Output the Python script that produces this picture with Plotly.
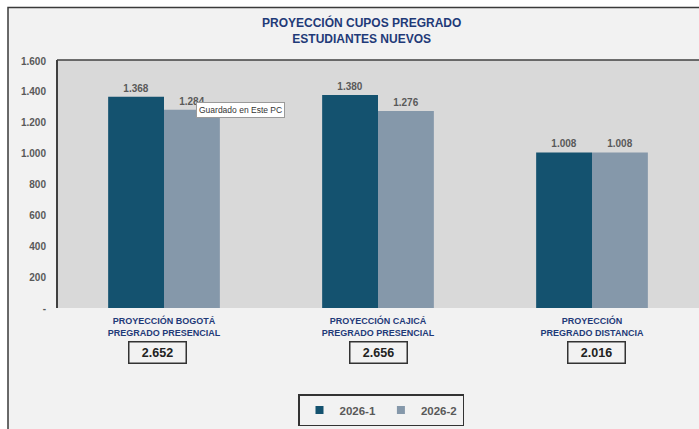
import plotly.graph_objects as go

# Chart data
categories = ["PROYECCIÓN BOGOTÁ<br>PREGRADO PRESENCIAL",
              "PROYECCIÓN CAJICÁ<br>PREGRADO PRESENCIAL",
              "PROYECCIÓN<br>PREGRADO DISTANCIA"]
series_names = ["2026-1", "2026-2"]
values_2026_1 = [1368, 1380, 1008]
values_2026_2 = [1284, 1276, 1008]
totals = [a + b for a, b in zip(values_2026_1, values_2026_2)]
y_tick_values = [0, 200, 400, 600, 800, 1000, 1200, 1400, 1600]
y_tick_labels = ["-", "200", "400", "600", "800", "1.000", "1.200", "1.400", "1.600"]

W, H = 699, 429
L, R, T, B = 57, 0, 61, 121
PW, PH = W - L - R, H - T - B


def px(x):
    return (x - L) / PW


def py(y):
    return (H - B - y) / PH


NAVY = "#1f3a78"
GRAY_TXT = "#595959"
COLORS = ["#14526f", "#8598aa"]

fig = go.Figure()
for name, vals, col in zip(series_names, [values_2026_1, values_2026_2], COLORS):
    fig.add_trace(go.Bar(x=categories, y=vals, name=name, showlegend=False,
                         marker=dict(color=col, line=dict(width=0)),
                         texttemplate="<b>%{y:,.0f}</b>", textposition="outside",
                         textfont=dict(size=10, color=GRAY_TXT), cliponaxis=False))
# compact square swatches for the legend
for name, col in zip(series_names, COLORS):
    fig.add_trace(go.Scatter(x=[None], y=[None], mode="markers", name="<b>" + name + "</b>",
                             marker=dict(symbol="square", size=8, color=col),
                             showlegend=True))

shapes = [
    # outer chart frame
    dict(type="rect", xref="paper", yref="paper", layer="below",
         x0=px(8), x1=px(710), y0=py(7.5), y1=py(440),
         fillcolor="#f2f2f2", line=dict(color="#3a3a3a", width=1.5)),
    # plot area
    dict(type="rect", xref="paper", yref="paper", layer="below",
         x0=0, x1=1.02, y0=0, y1=py(60),
         fillcolor="#d9d9d9", line=dict(width=0)),
    dict(type="line", xref="paper", yref="paper", layer="below",
         x0=0, x1=1.02, y0=py(60), y1=py(60),
         line=dict(color="#404040", width=1.5)),
    dict(type="line", xref="paper", yref="paper", layer="below",
         x0=0, x1=0, y0=0, y1=py(60),
         line=dict(color="#404040", width=2)),
]

annotations = [
    dict(xref="paper", yref="paper", x=px(361), y=py(30.5), showarrow=False,
         xanchor="center", yanchor="middle",
         text="<b>PROYECCIÓN CUPOS PREGRADO<br>ESTUDIANTES NUEVOS</b>",
         font=dict(size=12, color=NAVY, family="Liberation Sans"),
         align="center"),
    dict(xref="paper", yref="paper", x=px(241), y=py(110), showarrow=False,
         xanchor="center", yanchor="middle",
         text="Guardado en Este PC", font=dict(size=8.5, color="#333333"),
         bgcolor="white", bordercolor="#9a9a9a", borderwidth=1, borderpad=2),
]
box_shifts = [-7, 0, 4]
for cat, tot, dx in zip(categories, totals, box_shifts):
    annotations.append(dict(
        xref="x", yref="paper", x=cat, y=py(352), showarrow=False,
        xanchor="center", yanchor="middle", xshift=dx,
        text="<b>" + f"{tot:,}".replace(",", ".") + "</b>",
        font=dict(size=12.5, color="#222222", family="Liberation Sans"),
        bgcolor="#f2f2f2", bordercolor="#333333", borderwidth=1.5,
        borderpad=3, width=50))

fig.update_layout(
    width=W, height=H,
    margin=dict(l=L, r=R, t=T, b=B, pad=0),
    paper_bgcolor="white", plot_bgcolor="rgba(0,0,0,0)",
    font=dict(family="Liberation Sans"),
    separators=",.",
    barmode="group", bargap=0.478, bargroupgap=0,
    showlegend=True,
    legend=dict(orientation="h", xanchor="center", yanchor="middle",
                x=px(381), y=py(410), bgcolor="#f2f2f2",
                bordercolor="#333333", borderwidth=1.5,
                font=dict(size=11.5, color=GRAY_TXT, family="Liberation Sans"),
                itemwidth=30, tracegroupgap=0),
    shapes=shapes, annotations=annotations,
    xaxis=dict(showgrid=False, showline=False, ticks="",
               tickfont=dict(size=9, color=NAVY, family="Liberation Sans"),
               tickvals=categories,
               ticktext=["<b>" + c + "</b>" for c in categories],
               ticklabelstandoff=6, fixedrange=True),
    yaxis=dict(range=[0, 1600], tickvals=y_tick_values,
               ticktext=["<b>" + t + "</b>" for t in y_tick_labels],
               showgrid=False, zeroline=False, showline=False, ticks="",
               tickfont=dict(size=10, color=GRAY_TXT, family="Liberation Sans"),
               ticklabelstandoff=10, fixedrange=True),
)

fig.write_html("out.html")
